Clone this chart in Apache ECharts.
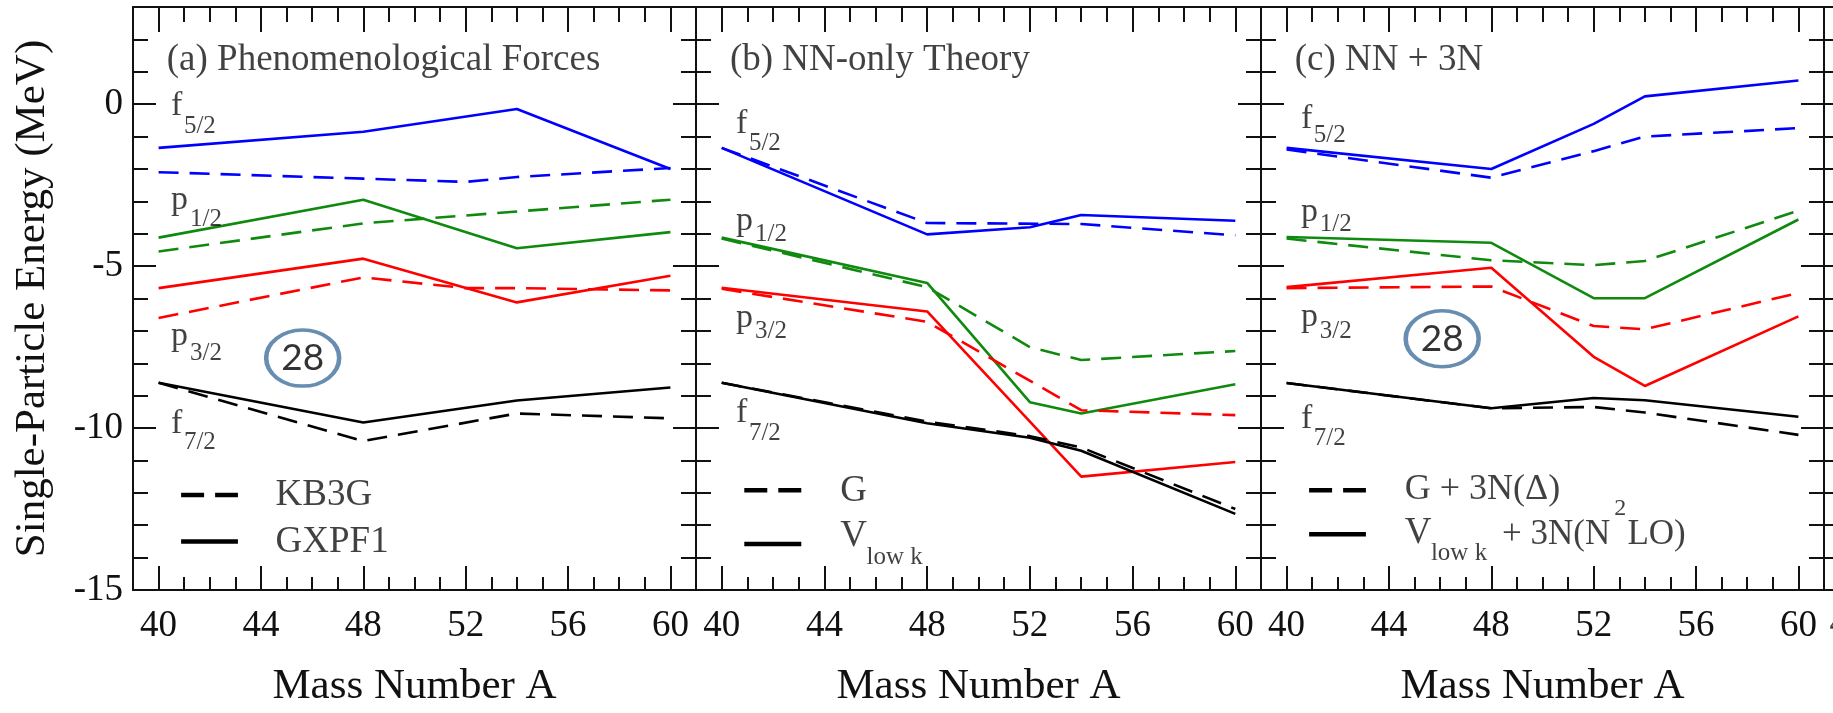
<!DOCTYPE html>
<html>
<head>
<meta charset="utf-8">
<title>Single-particle energies vs mass number</title>
<script src="https://cdn.jsdelivr.net/npm/echarts@6/dist/echarts.min.js"></script>
<style>
  html, body { margin: 0; padding: 0; background: #fff; }
  #chart { width: 1833px; height: 713px; }
</style>
</head>
<body>
<div id="chart"></div>
<script>
// tick labels
const massTicks = [40, 44, 48, 52, 56, 60];
const energyTicks = [-15, -10, -5, 0];

// (a) phenomenological forces: KB3G (dashed), GXPF1 (solid)
const aF52Kb3g = [[40, -2.1], [48, -2.3], [52, -2.4], [54, -2.25], [60, -1.97]];
const aF52Gxpf = [[40, -1.35], [48, -0.85], [54, -0.15], [60, -2.0]];
const aP12Kb3g = [[40, -4.55], [48, -3.68], [60, -2.95]];
const aP12Gxpf = [[40, -4.12], [48, -2.95], [54, -4.45], [60, -3.95]];
const aP32Kb3g = [[40, -6.6], [48, -5.35], [52, -5.68], [54, -5.68], [60, -5.75]];
const aP32Gxpf = [[40, -5.68], [48, -4.77], [54, -6.12], [60, -5.3]];
const aF72Kb3g = [[40, -8.6], [48, -10.4], [54, -9.55], [60, -9.7]];
const aF72Gxpf = [[40, -8.6], [48, -9.83], [54, -9.15], [60, -8.75]];

// (b) NN-only: G (dashed), Vlow k (solid)
const bF52G = [[40, -1.35], [48, -3.67], [54, -3.7], [60, -4.05]];
const bF52V = [[40, -1.35], [48, -4.02], [52, -3.8], [54, -3.42], [60, -3.6]];
const bP12G = [[40, -4.15], [48, -5.65], [52, -7.5], [54, -7.9], [60, -7.62]];
const bP12V = [[40, -4.12], [48, -5.52], [52, -9.2], [54, -9.55], [60, -8.65]];
const bP32G = [[40, -5.7], [48, -6.72], [54, -9.45], [60, -9.6]];
const bP32V = [[40, -5.67], [48, -6.4], [54, -11.5], [60, -11.05]];
const bF72G = [[40, -8.6], [48, -9.8], [52, -10.25], [54, -10.6], [60, -12.5]];
const bF72V = [[40, -8.6], [48, -9.85], [52, -10.3], [54, -10.7], [60, -12.65]];

// (c) NN + 3N: G + 3N(Delta) (dashed), Vlow k + 3N(N2LO) (solid)
const cF52G = [[40, -1.4], [48, -2.27], [52, -1.45], [54, -1.0], [60, -0.74]];
const cF52V = [[40, -1.35], [48, -2.0], [52, -0.61], [54, 0.24], [60, 0.73]];
const cP12G = [[40, -4.15], [48, -4.82], [52, -4.97], [54, -4.84], [60, -3.29]];
const cP12V = [[40, -4.1], [48, -4.28], [52, -5.99], [54, -5.99], [60, -3.56]];
const cP32G = [[40, -5.68], [48, -5.63], [52, -6.85], [54, -6.95], [60, -5.83]];
const cP32V = [[40, -5.65], [48, -5.05], [52, -7.8], [54, -8.7], [60, -6.55]];
const cF72G = [[40, -8.61], [48, -9.39], [52, -9.35], [54, -9.52], [60, -10.21]];
const cF72V = [[40, -8.61], [48, -9.39], [52, -9.07], [54, -9.14], [60, -9.65]];

const panelTitles = ['(a) Phenomenological Forces', '(b) NN-only Theory', '(c) NN + 3N'];
const orbitals = [['f', '5/2'], ['p', '1/2'], ['p', '3/2'], ['f', '7/2']];

// where the orbital names sit (energy of letter, energy of subscript)
const orbitalLetterY = [[-0.06, -2.95, -7.17, -9.87], [-0.6, -3.6, -6.61, -9.54], [-0.45, -3.34, -6.56, -9.72]];
const orbitalSubY = [[-0.7, -3.57, -7.71, -10.44], [-1.22, -4.03, -7.03, -10.17], [-0.97, -3.72, -7.03, -10.32]];

const SERIF = '"Liberation Serif", "Times New Roman", serif';
const INK = '#111111';
const COLORS = ['#0000ff', '#0f8a0f', '#ff0000', '#000000'];
const DASH = [20, 11];

const gridLeft = [133, 696, 1261];
const gridWidth = [563, 565, 563];

const dashedSets = [
  [aF52Kb3g, aP12Kb3g, aP32Kb3g, aF72Kb3g],
  [bF52G, bP12G, bP32G, bF72G],
  [cF52G, cP12G, cP32G, cF72G]
];
const solidSets = [
  [aF52Gxpf, aP12Gxpf, aP32Gxpf, aF72Gxpf],
  [bF52V, bP12V, bP32V, bF72V],
  [cF52V, cP12V, cP32V, cF72V]
];

const chart = echarts.init(document.getElementById('chart'));

const tickLine = { color: INK, width: 2 };
const frameLine = { show: true, onZero: false, lineStyle: { color: INK, width: 2 } };

function xAxesFor(g) {
  const base = {
    gridIndex: g, type: 'value', min: 39, max: 61,
    splitLine: { show: false }, axisLabel: { show: false },
    axisLine: { show: false, onZero: false }, axisTick: { show: false }
  };
  return [
    Object.assign({}, base, {
      position: 'bottom', axisLine: frameLine,
      axisTick: { show: true, inside: true, length: 24, customValues: massTicks, lineStyle: tickLine },
      axisLabel: { show: true, customValues: massTicks, margin: 18, fontSize: 37, fontFamily: SERIF, color: INK },
      name: 'Mass Number A', nameLocation: 'middle', nameGap: 75,
      nameTextStyle: { fontSize: 43, fontFamily: SERIF, color: INK }
    }),
    Object.assign({}, base, {
      position: 'bottom', interval: 1,
      axisTick: { show: true, inside: true, length: 13, lineStyle: tickLine }
    }),
    Object.assign({}, base, {
      position: 'top', axisLine: frameLine,
      axisTick: { show: true, inside: true, length: 25, customValues: massTicks, lineStyle: tickLine }
    }),
    Object.assign({}, base, {
      position: 'top', interval: 1,
      axisTick: { show: true, inside: true, length: 15, lineStyle: tickLine }
    })
  ];
}

function yAxesFor(g) {
  const base = {
    gridIndex: g, type: 'value', min: -15, max: 3,
    splitLine: { show: false }, axisLabel: { show: false },
    axisLine: { show: false, onZero: false }, axisTick: { show: false }
  };
  const left = Object.assign({}, base, {
    position: 'left', axisLine: frameLine,
    axisTick: { show: true, inside: true, length: 23, customValues: energyTicks, lineStyle: tickLine }
  });
  if (g === 0) {
    left.axisLabel = { show: true, customValues: energyTicks, margin: 10, fontSize: 37, fontFamily: SERIF, color: INK };
    left.name = 'Single-Particle Energy (MeV)';
    left.nameLocation = 'middle';
    left.nameGap = 79;
    left.nameTextStyle = { fontSize: 43, fontFamily: SERIF, color: INK };
  }
  return [
    left,
    Object.assign({}, base, {
      position: 'left', interval: 1,
      axisTick: { show: true, inside: true, length: 15, lineStyle: tickLine }
    }),
    Object.assign({}, base, {
      position: 'right', axisLine: frameLine,
      axisTick: { show: true, inside: true, length: 23, customValues: energyTicks, lineStyle: tickLine }
    }),
    Object.assign({}, base, {
      position: 'right', interval: 1,
      axisTick: { show: true, inside: true, length: 15, lineStyle: tickLine }
    })
  ];
}

const grids = [0, 1, 2].map(g => ({ left: gridLeft[g], width: gridWidth[g], top: 7, height: 593 }));
let xAxes = [], yAxes = [];
[0, 1, 2].forEach(g => { xAxes = xAxes.concat(xAxesFor(g)); yAxes = yAxes.concat(yAxesFor(g)); });

// ticks of the neighbouring (cut off) panel, pointing out of panel (c)
yAxes.push({
  gridIndex: 2, type: 'value', min: -15, max: 3, position: 'right', splitLine: { show: false },
  axisLabel: { show: false }, axisLine: { show: false, onZero: false },
  axisTick: { show: true, inside: false, length: 23, customValues: energyTicks, lineStyle: tickLine }
});
yAxes.push({
  gridIndex: 2, type: 'value', min: -15, max: 3, interval: 1, position: 'right', splitLine: { show: false },
  axisLabel: { show: false }, axisLine: { show: false, onZero: false },
  axisTick: { show: true, inside: false, length: 15, lineStyle: tickLine }
});

function txt(a, e, text, size, family) {
  return {
    value: [a, e],
    label: { formatter: text, fontSize: size, fontFamily: family || SERIF }
  };
}

// legend entries drawn inside each panel
const legendDashedText = [
  [txt(44.55, -12.09, 'KB3G', 37)],
  [txt(44.6, -11.94, 'G', 37)],
  [txt(44.6, -11.9, 'G + 3N(\u0394)', 36)]
];
const legendSolidText = [
  [txt(44.55, -13.52, 'GXPF1', 37)],
  [txt(44.6, -13.35, 'V', 37), txt(45.62, -13.98, 'low k', 25)],
  [txt(44.6, -13.25, 'V', 37), txt(45.62, -13.87, 'low k', 25), txt(48.4, -13.3, '+ 3N(N', 35),
   txt(52.78, -12.5, '2', 24), txt(53.3, -13.3, 'LO)', 35)]
];
const legendDashedY = [-12.07, -11.92, -11.92];
const legendSolidY = [-13.5, -13.58, -13.28];

const series = [];
[0, 1, 2].forEach(g => {
  const xi = g * 4, yi = g * 4;
  for (let k = 0; k < 4; k++) {
    series.push({
      type: 'line', xAxisIndex: xi, yAxisIndex: yi, data: dashedSets[g][k],
      symbol: 'none', silent: true,
      lineStyle: { color: COLORS[k], width: 2.6, type: DASH }
    });
    series.push({
      type: 'line', xAxisIndex: xi, yAxisIndex: yi, data: solidSets[g][k],
      symbol: 'none', silent: true,
      lineStyle: { color: COLORS[k], width: 2.6 }
    });
  }
  // legend samples
  series.push({
    type: 'line', xAxisIndex: xi, yAxisIndex: yi, symbol: 'none', silent: true,
    data: [[40.88, legendDashedY[g]], [43.1, legendDashedY[g]]],
    lineStyle: { color: '#000', width: 4.5, type: [23, 11] }
  });
  series.push({
    type: 'line', xAxisIndex: xi, yAxisIndex: yi, symbol: 'none', silent: true,
    data: [[40.88, legendSolidY[g]], [43.1, legendSolidY[g]]],
    lineStyle: { color: '#000', width: 4.5 }
  });

  // texts
  const labelX = g === 0 ? 40.47 : 40.54;
  const texts = [txt(40.3, 1.35, panelTitles[g], 37)];
  orbitals.forEach((o, k) => {
    texts.push(txt(labelX, orbitalLetterY[g][k], o[0], 34));
    texts.push(txt(labelX + (o[0] === 'f' ? 0.5 : 0.74), orbitalSubY[g][k], o[1], 25));
  });
  texts.push(...legendDashedText[g], ...legendSolidText[g]);
  if (g === 2) texts.push(txt(61.2, -16.06, '40', 37));
  series.push({
    type: 'scatter', xAxisIndex: xi, yAxisIndex: yi, silent: true, clip: false,
    symbolSize: 1, itemStyle: { color: 'rgba(0,0,0,0)' }, z: 5,
    label: { show: true, position: 'right', distance: 0, color: INK },
    data: texts
  });
});

// circled shell closure "28" in panels (a) and (c)
const magicMarks = [[0, 45.63, -7.84], [2, 46.08, -7.24]];
magicMarks.forEach(m => {
  series.push({
    type: 'scatter', xAxisIndex: m[0] * 4, yAxisIndex: m[0] * 4, silent: true, z: 6,
    symbol: 'circle', symbolSize: [73, 56],
    itemStyle: { color: '#ffffff', borderColor: '#41719c', borderWidth: 4 },
    label: { show: true, position: 'inside', formatter: '28', fontSize: 37, fontFamily: 'Lato, "Open Sans", sans-serif', color: '#000' },
    data: [[m[1], m[2]]]
  });
});

chart.setOption({
  animation: false,
  backgroundColor: '#ffffff',
  grid: grids,
  xAxis: xAxes,
  yAxis: yAxes,
  series: series
});
</script>
</body>
</html>
